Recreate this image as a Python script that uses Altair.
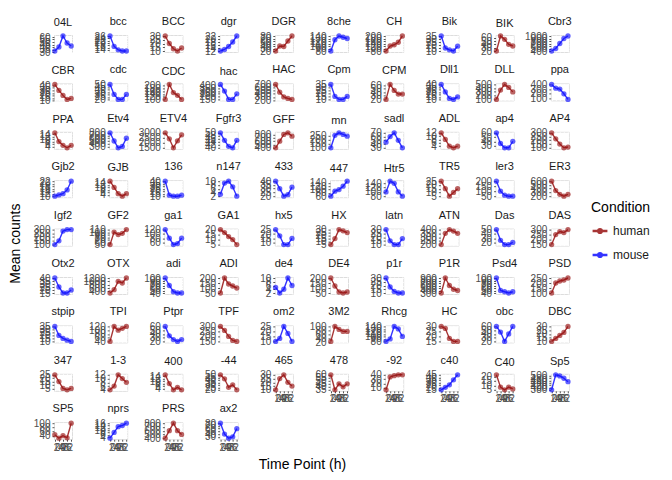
import altair as alt
import pandas as pd

times = [0, 24, 48, 72, 96]
x_breaks = [0, 24, 48, 72, 96]

genes = [
    "04L", "bcc", "BCC", "dgr", "DGR", "8che", "CH", "Bik", "BIK", "Cbr3",
    "CBR", "cdc", "CDC", "hac", "HAC", "Cpm", "CPM", "Dll1", "DLL", "ppa",
    "PPA", "Etv4", "ETV4", "Fgfr3", "GFF", "mn", "sadl", "ADL", "ap4", "AP4",
    "Gjb2", "GJB", "136", "n147", "433", "447", "Htr5", "TR5", "ler3", "ER3",
    "Igf2", "GF2", "ga1", "GA1", "hx5", "HX", "latn", "ATN", "Das", "DAS",
    "Otx2", "OTX", "adi", "ADI", "de4", "DE4", "p1r", "P1R", "Psd4", "PSD",
    "stpip", "TPI", "Ptpr", "TPF", "om2", "3M2", "Rhcg", "HC", "obc", "DBC",
    "347", "1-3", "400", "-44", "465", "478", "-92", "c40", "C40", "Sp5",
    "SP5", "nprs", "PRS", "ax2",
]

conditions = [
    "mouse", "mouse", "human", "mouse", "human", "mouse", "human", "mouse", "human", "mouse",
    "human", "mouse", "human", "mouse", "human", "mouse", "human", "mouse", "human", "mouse",
    "human", "mouse", "human", "mouse", "human", "mouse", "mouse", "human", "mouse", "human",
    "mouse", "human", "mouse", "mouse", "mouse", "mouse", "mouse", "human", "mouse", "human",
    "mouse", "human", "mouse", "human", "mouse", "human", "mouse", "human", "mouse", "human",
    "mouse", "human", "mouse", "human", "mouse", "human", "mouse", "human", "mouse", "human",
    "mouse", "human", "mouse", "human", "mouse", "human", "mouse", "human", "mouse", "human",
    "human", "human", "human", "human", "human", "human", "human", "mouse", "human", "mouse",
    "human", "mouse", "human", "mouse",
]

values = [
    [32, 40, 62, 48, 42], [26, 17, 14, 13, 13], [30, 20, 13, 10, 14], [12, 13, 15, 18, 22], [20, 40, 38, 60, 80],
    [80, 125, 140, 135, 130], [80, 120, 130, 150, 200], [35, 15, 12, 10, 18], [20, 65, 55, 40, 35], [400, 500, 700, 900, 1000],
    [42, 30, 20, 12, 14], [50, 30, 20, 20, 30], [100, 210, 150, 130, 100], [420, 300, 150, 150, 250], [700, 450, 300, 250, 220],
    [35, 15, 10, 10, 15], [20, 62, 45, 35, 35], [40, 25, 12, 10, 15], [100, 350, 500, 420, 300], [400, 320, 300, 200, 80],
    [15, 8, 5, 3, 5], [800, 500, 250, 300, 600], [3000, 2400, 1500, 2200, 2800], [50, 45, 41, 40, 45], [400, 600, 800, 850, 750],
    [100, 250, 280, 260, 240], [45, 60, 70, 50, 30], [12, 8, 4, 3, 4], [60, 35, 25, 25, 40], [300, 220, 150, 100, 110],
    [10, 11, 12, 15, 22], [15, 10, 5, 3, 5], [40, 12, 10, 10, 12], [3, 9, 10, 7, 2], [40, 30, 20, 22, 32],
    [60, 90, 100, 120, 150], [100, 150, 140, 100, 80], [25, 15, 5, 10, 15], [200, 100, 60, 50, 50], [600, 350, 250, 200, 250],
    [100, 150, 280, 300, 300], [50, 100, 90, 95, 110], [120, 80, 50, 55, 80], [20, 17, 13, 10, 5], [25, 18, 8, 8, 15],
    [5, 15, 30, 28, 25], [30, 15, 10, 10, 18], [200, 350, 400, 380, 350], [50, 25, 15, 15, 20], [150, 250, 280, 270, 300],
    [40, 25, 15, 15, 20], [300, 500, 1000, 900, 1200], [100, 70, 45, 40, 40], [50, 200, 140, 120, 100], [5, 2, 4, 10, 6],
    [200, 120, 60, 50, 60], [30, 18, 12, 10, 10], [300, 900, 600, 450, 400], [100, 50, 45, 40, 45], [100, 200, 220, 230, 250],
    [35, 20, 15, 12, 10], [40, 120, 100, 110, 120], [60, 35, 25, 20, 25], [300, 260, 200, 160, 150], [10, 13, 25, 18, 10],
    [25, 100, 85, 75, 75], [80, 90, 140, 130, 100], [30, 28, 18, 15, 15], [60, 45, 20, 40, 60], [10, 14, 18, 22, 30],
    [25, 15, 5, 3, 5], [4, 6, 12, 10, 8], [15, 8, 3, 5, 3], [50, 42, 25, 30, 20], [10, 25, 30, 20, 15],
    [60, 35, 45, 40, 45], [5, 35, 38, 40, 40], [15, 20, 25, 35, 45], [22, 8, 5, 8, 6], [380, 510, 500, 480, 450],
    [45, 28, 40, 30, 100], [3, 8, 13, 14, 16], [400, 600, 800, 600, 500], [80, 40, 25, 30, 60],
]

rows = []
for g, c, vals in zip(genes, conditions, values):
    for t, v in zip(times, vals):
        rows.append({"gene": g, "condition": c, "time": t, "mean": v})
df = pd.DataFrame(rows)

NCOL = 10
n = len(genes)

color = alt.Color(
    "condition:N",
    scale=alt.Scale(domain=["human", "mouse"], range=["#981212", "#1010FF"]),
    legend=alt.Legend(
        title="Condition",
        orient="none",
        legendX=537,
        legendY=166,
        titleFontSize=14,
        titleFontWeight="normal",
        titleColor="#000000",
        titlePadding=7,
        labelFontSize=12,
        labelColor="#1A1A1A",
        rowPadding=8,
        symbolType="M -1 0 L 1 0 M -0.25 0 A 0.25 0.25 0 1 1 0.25 0 A 0.25 0.25 0 1 1 -0.25 0",
        symbolSize=220,
        symbolStrokeWidth=2.5,
        symbolOpacity=0.85,
    ),
)

y = alt.Y(
    "mean:Q",
    scale=alt.Scale(zero=False, nice=False, padding=1),
    axis=alt.Axis(
        title=None,
        tickCount=5,
        format="~f",
        labelOverlap=False,
        labelFontSize=10,
        labelColor="#4D4D4D",
        tickColor="#555555",
        tickSize=2,
        labelPadding=2,
        domain=False,
        gridColor="white",
    ),
)

cells = []
for i, g in enumerate(genes):
    is_bottom = i + NCOL >= n
    if is_bottom:
        xaxis = alt.Axis(
            values=x_breaks,
            title=None,
            labelOverlap=False,
            labelFontSize=10,
            labelColor="#4D4D4D",
            tickColor="#555555",
            tickSize=2,
            labelPadding=1,
            domain=False,
            gridColor="white",
        )
    else:
        xaxis = alt.Axis(
            values=x_breaks,
            title=None,
            labels=False,
            ticks=False,
            domain=False,
            gridColor="white",
        )
    x = alt.X("time:Q", scale=alt.Scale(domain=[-4.8, 100.8], nice=False, zero=False), axis=xaxis)
    base = alt.Chart(df).transform_filter(alt.datum.gene == g).encode(x=x, y=y, color=color)
    cell = alt.layer(
        base.mark_line(opacity=0.85, strokeWidth=1.4),
        base.mark_point(filled=True, opacity=0.65, size=28),
    ).properties(
        width=18,
        height=17,
        title=alt.TitleParams(
            g,
            fontSize=11,
            fontWeight="normal",
            color="#1A1A1A",
            anchor="middle",
            frame="group",
            offset=4,
        ),
    )
    cells.append(cell)

grid = alt.concat(
    *cells, columns=NCOL, spacing={"row": 31.4, "column": 37.2}, bounds="flush"
).resolve_scale(y="independent").properties(
    title=alt.TitleParams(
        "Time Point (h)",
        orient="bottom",
        anchor="middle",
        fontSize=14,
        fontWeight="normal",
        color="#000000",
        offset=5,
    )
)

chart = (
    alt.vconcat(grid)
    .properties(
        title=alt.TitleParams(
            "Mean counts",
            orient="left",
            anchor="middle",
            fontSize=14,
            fontWeight="normal",
            color="#000000",
            offset=10,
        ),
        padding={"left": 8, "top": 15, "right": 5, "bottom": 5},
    )
    .configure_view(fill="#EBEBEB", stroke=None)
    .configure(font="Liberation Sans", background="white")
)

chart.save("out.html", embed_options={"renderer": "svg", "actions": False})
